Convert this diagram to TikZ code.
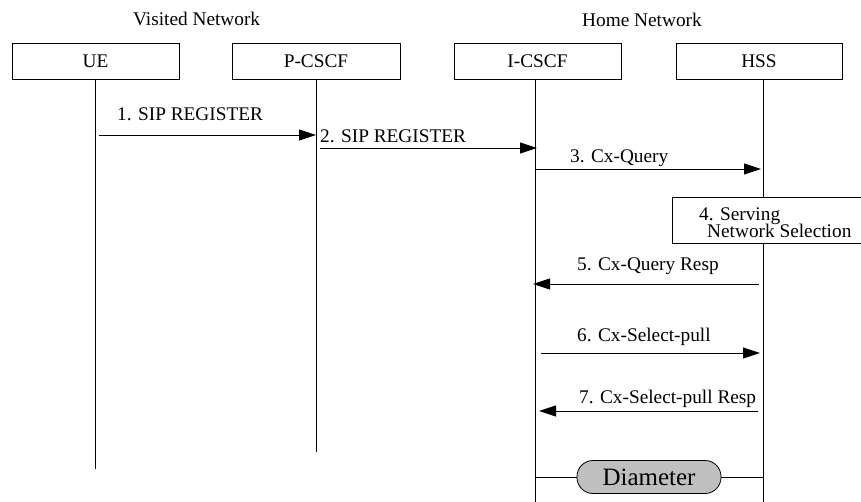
\documentclass[tikz,border=0pt]{standalone}
\usepackage{fontspec}
\setmainfont{Liberation Serif}
\usetikzlibrary{arrows.meta}
\begin{document}
\begin{tikzpicture}[x=1pt,y=-1pt,
  every node/.style={font=\fontsize{19.3}{16}\selectfont, inner sep=0pt},
  entity/.style={draw, line width=0.8pt, minimum height=36pt, fill=white},
  life/.style={line width=0.8pt},
  msg/.style={line width=0.8pt, -{Triangle[length=17pt,width=11pt]}},
  lbl/.style={anchor=base west},
  proto/.style={draw, line width=0.8pt, fill=black!25, rectangle,
    rounded corners=16pt, minimum width=144pt, minimum height=33pt,
    font=\fontsize{25}{25}\selectfont}]
\useasboundingbox (0,0) rectangle (861,502);
\clip (0,0) rectangle (861,502);

% network titles
\node[lbl] (visited) at (133,26) {Visited Network};
\node[lbl] (home) at (582,27) {Home Network};

% entities
\node[entity, minimum width=167pt] (ue) at (95.5,61) {UE};
\node[entity, minimum width=168pt] (pcscf) at (316,61) {P-CSCF};
\node[entity, minimum width=167pt] (icscf) at (537.5,61) {I-CSCF};
\node[entity, minimum width=166pt] (hss) at (759,61) {HSS};

% lifelines
\coordinate (ueEnd) at (95,469);
\coordinate (pcEnd) at (316,452);
\coordinate (icEnd) at (535,505);
\coordinate (hsEnd) at (763,505);
\draw[life] (ue.south -| ueEnd) -- (ueEnd);
\draw[life] (pcscf.south -| pcEnd) -- (pcEnd);
\draw[life] (icscf.south -| icEnd) -- (icEnd);
\draw[life] (hss.south -| hsEnd) -- (hsEnd);

% step 4 box (on the HSS lifeline)
\node[draw, line width=0.8pt, fill=white, minimum width=200pt, minimum height=46pt,
      anchor=north west] (sel) at (672,197) {};
\node[anchor=base west] (selA) at (699,220.5) {4. Serving};
\node[anchor=base west] (selB) at (707,238) {Network Selection};

% message end points
\coordinate (m1s) at (99,135);   \coordinate (m1e) at (316,135);
\coordinate (m2s) at (320,148);  \coordinate (m2e) at (537,148);
\coordinate (m3s) at (535,169);  \coordinate (m3e) at (761,169);
\coordinate (m5s) at (759,284);  \coordinate (m5e) at (533,284);
\coordinate (m6s) at (541,353);  \coordinate (m6e) at (760,353);
\coordinate (m7s) at (758,411);  \coordinate (m7e) at (539,411);

% messages
\draw[msg] (m1s) -- (m1e);
\draw[msg] (m2s) -- (m2e);
\draw[msg] (m3s) -- (m3e);
\draw[msg] (m5s) -- (m5e);
\draw[msg] (m6s) -- (m6e);
\draw[msg] (m7s) -- (m7e);

% message labels
\node[lbl] (l1) at (117,120.5) {1. SIP REGISTER};
\node[lbl] (l2) at (320,143) {2. SIP REGISTER};
\node[lbl] (l3) at (570,163) {3. Cx-Query};
\node[lbl] (l5) at (577,271) {5. Cx-Query Resp};
\node[lbl] (l6) at (577,341) {6. Cx-Select-pull};
\node[lbl] (l7) at (579,403) {7. Cx-Select-pull Resp};

% Diameter interface between I-CSCF and HSS
\coordinate (dL) at (535,477);
\coordinate (dR) at (763,477);
\node[proto] (dia) at (649,477) {Diameter};
\draw[life] (dL) -- (dia.west);
\draw[life] (dia.east) -- (dR);
\end{tikzpicture}
\end{document}
